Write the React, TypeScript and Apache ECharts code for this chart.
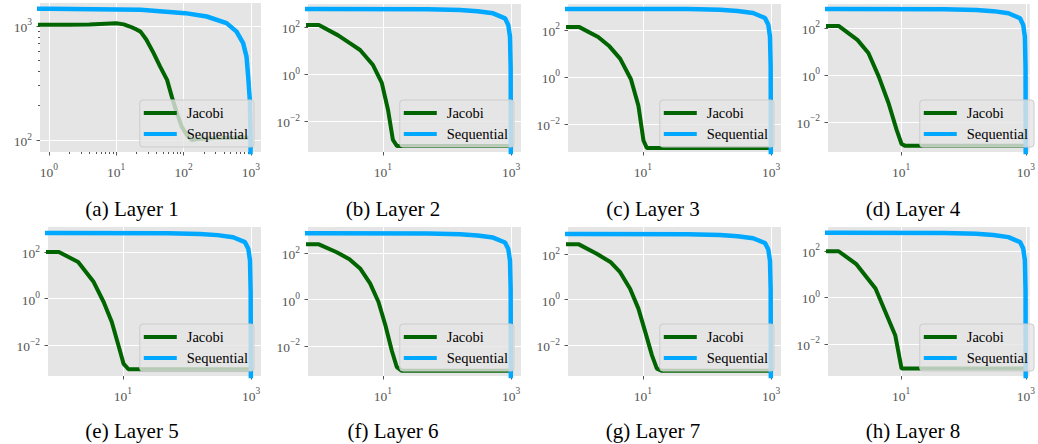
import React, { useEffect, useRef } from 'react';
import * as echarts from 'echarts';

// ---------------- data ----------------
const captions = ['(a) Layer 1', '(b) Layer 2', '(c) Layer 3', '(d) Layer 4', '(e) Layer 5', '(f) Layer 6', '(g) Layer 7', '(h) Layer 8'];
const seriesNames = ['Jacobi', 'Sequential'];

// [iteration, value]
const jacobiA = [[0.5, 1020], [1, 1020], [2, 1020], [4, 1025], [7, 1045], [10, 1055], [13, 1030], [16, 986], [20, 930], [23, 890], [28, 760], [36, 577], [45, 440], [57, 336], [67, 240], [80, 171], [94, 131], [112, 111], [133, 100], [160, 102], [300, 104], [1000, 105]];
const sequentialA = [[0.5, 1410], [1, 1410], [23, 1380], [106, 1292], [221, 1207], [436, 1056], [613, 890], [767, 705], [861, 537], [912, 359], [964, 224], [988, 115], [1010, 0.001]];

const jacobiB = [[0.5, 122], [1, 122], [2, 44], [3, 21], [4.4, 10.5], [7, 2.4], [9.6, 0.42], [12, 0.03], [14.3, 0.0016], [16.5, 0.00087], [1000, 0.00087]];
const sequentialB = [[0.5, 583], [1, 583], [50, 570], [160, 530], [300, 470], [525, 382], [806, 234], [907, 122], [964, 39], [988, 2], [1000, 1e-7]];

const jacobiC = [[0.5, 134], [1, 134], [2, 50], [3, 20], [4.4, 6], [6.5, 0.8], [8.5, 0.06], [10.2, 0.002], [11.5, 0.00095], [1000, 0.00095]];
const sequentialC = [[0.5, 780], [1, 780], [50, 765], [160, 715], [300, 640], [525, 520], [806, 320], [907, 165], [964, 52], [988, 3], [1000, 1e-7]];

const jacobiD = [[0.5, 122], [1, 122], [2, 31], [3, 8.6], [4.4, 0.85], [6.3, 0.064], [8.5, 0.0046], [10.2, 0.00115], [11.5, 0.00098], [1000, 0.00098]];
const sequentialD = [[0.5, 645], [1, 645], [50, 630], [160, 585], [300, 520], [525, 422], [806, 258], [907, 135], [964, 43], [988, 2], [1000, 1e-7]];

const jacobiE = [[0.5, 100], [1, 100], [2, 37], [3.5, 5.1], [5, 0.71], [6.7, 0.098], [8.5, 0.0098], [10.2, 0.0016], [12.2, 0.00091], [1000, 0.00091]];
const sequentialE = [[0.5, 660], [1, 660], [50, 645], [160, 600], [300, 532], [525, 432], [806, 265], [907, 138], [964, 44], [988, 2], [1000, 1e-7]];

const jacobiF = [[0.5, 240], [1, 240], [1.9, 110], [3, 55], [4.4, 22], [6.3, 5], [8.5, 0.8], [10.9, 0.08], [13.8, 0.006], [16.5, 0.0012], [19.5, 0.00085], [1000, 0.00085]];
const sequentialF = [[0.5, 720], [1, 720], [50, 705], [160, 655], [300, 580], [525, 472], [806, 290], [907, 151], [964, 48], [988, 3], [1000, 1e-7]];

const jacobiG = [[0.5, 267], [1, 267], [1.9, 103], [3.1, 45], [4.4, 16], [6.3, 3.0], [8.5, 0.4], [10.9, 0.037], [13.8, 0.0036], [16.5, 0.00092], [19.8, 0.00074], [1000, 0.00074]];
const sequentialG = [[0.5, 760], [1, 760], [50, 745], [160, 690], [300, 612], [525, 498], [806, 305], [907, 159], [964, 51], [988, 3], [1000, 1e-7]];

const jacobiH = [[0.5, 97], [1, 97], [1.9, 28], [3.9, 2.4], [5.6, 0.24], [8.1, 0.023], [10.2, 0.00087], [1000, 0.00087]];
const sequentialH = [[0.5, 600], [1, 600], [50, 588], [160, 545], [300, 484], [525, 393], [806, 241], [907, 126], [964, 40], [988, 2], [1000, 1e-7]];

const jacobiData = [jacobiA, jacobiB, jacobiC, jacobiD, jacobiE, jacobiF, jacobiG, jacobiH];
const sequentialData = [sequentialA, sequentialB, sequentialC, sequentialD, sequentialE, sequentialF, sequentialG, sequentialH];

// tick values
const xTicksA = [1, 10, 100, 1000];
const yTicksA = [100, 1000];
const xMinorA = [2, 3, 4, 5, 6, 7, 8, 9, 20, 30, 40, 50, 60, 70, 80, 90, 200, 300, 400, 500, 600, 700, 800, 900];
const yMinorA = [200, 300, 400, 500, 600, 700, 800, 900];
const xTicks = [10, 1000];
const yTicks = [0.01, 1, 100];

// axis extents as exponents of 10
const xExp = [[-0.13, 3.15], [-0.17, 3.156], [-0.17, 3.156], [-0.17, 3.0625], [-0.17, 3.156], [-0.17, 3.156], [-0.17, 3.156], [-0.17, 3.0625]];
const yExp = [[1.895, 3.2], [-3.319, 2.979], [-3.19, 3.1], [-3.28, 3.02], [-3.33, 3.075], [-3.3, 3.13], [-3.36, 3.19], [-3.38, 3.03]];

// ---------------- layout ----------------
const W = 1038;
const H = 444;
const boxes = [
  { left: 40, top: 3, width: 221, height: 149 },
  { left: 308, top: 4, width: 213, height: 148 },
  { left: 568, top: 4, width: 213, height: 148 },
  { left: 828, top: 4, width: 207, height: 148 },
  { left: 48, top: 227, width: 213, height: 149 },
  { left: 308, top: 227, width: 213, height: 149 },
  { left: 568, top: 227, width: 213, height: 149 },
  { left: 828, top: 227, width: 207, height: 149 },
];
const captionPos = [[132, 209], [393, 209], [653, 209], [913, 209], [132, 431], [393, 431], [653, 431], [913, 431]];

const SERIF = '"Liberation Serif", "Times New Roman", "DejaVu Serif", serif';
const GREEN = '#006400';
const BLUE = '#00a8ff';
const TICK = '#555555';

function expLabel(v: number) {
  const e = Math.round(Math.log10(v));
  const s = e < 0 ? '\u2212' + String(-e) : String(e);
  return '{b|10}{s|' + s + '}';
}

const rich = {
  b: { fontSize: 13.5, fontFamily: SERIF, color: TICK, verticalAlign: 'bottom', lineHeight: 17 },
  s: { fontSize: 9.5, fontFamily: SERIF, color: TICK, verticalAlign: 'top', lineHeight: 17 },
};

export default function App() {
  const ref = useRef<HTMLDivElement>(null);
  useEffect(() => {
    if (!ref.current) return;
    const chart = echarts.init(ref.current, undefined, { renderer: 'svg' });
    const grid: any[] = [];
    const xAxis: any[] = [];
    const yAxis: any[] = [];
    const series: any[] = [];
    const legend: any[] = [];
    const graphic: any[] = [];

    boxes.forEach((b, i) => {
      grid.push({ ...b, show: true, backgroundColor: '#e5e5e5', borderWidth: 0 });
      const xt = i === 0 ? xTicksA : xTicks;
      const yt = i === 0 ? yTicksA : yTicks;
      const xi = xAxis.length;
      xAxis.push({
        type: 'log', gridIndex: i, position: 'bottom',
        min: Math.pow(10, xExp[i][0]), max: Math.pow(10, xExp[i][1]),
        axisLine: { show: false },
        axisTick: { show: true, customValues: xt, length: 3.5, lineStyle: { color: TICK, width: 1 } },
        axisLabel: { show: true, customValues: xt, formatter: expLabel, rich, margin: 10 },
        splitLine: { show: true, lineStyle: { color: '#ffffff', width: 1 } },
        minorTick: { show: false }, minorSplitLine: { show: false },
      });
      const yi = yAxis.length;
      yAxis.push({
        type: 'log', gridIndex: i, position: 'left',
        min: Math.pow(10, yExp[i][0]), max: Math.pow(10, yExp[i][1]),
        axisLine: { show: false },
        axisTick: { show: true, customValues: yt, length: 3.5, lineStyle: { color: TICK, width: 1 } },
        axisLabel: { show: true, customValues: yt, formatter: expLabel, rich, margin: 8 },
        splitLine: { show: true, lineStyle: { color: '#ffffff', width: 1 } },
        minorTick: { show: false }, minorSplitLine: { show: false },
      });
      if (i === 0) {
        xAxis.push({
          type: 'log', gridIndex: 0, position: 'bottom',
          min: Math.pow(10, xExp[0][0]), max: Math.pow(10, xExp[0][1]),
          axisLine: { show: false },
          axisTick: { show: true, customValues: xMinorA, length: 2, lineStyle: { color: TICK, width: 1 } },
          axisLabel: { show: false }, splitLine: { show: false },
        });
        yAxis.push({
          type: 'log', gridIndex: 0, position: 'left',
          min: Math.pow(10, yExp[0][0]), max: Math.pow(10, yExp[0][1]),
          axisLine: { show: false },
          axisTick: { show: true, customValues: yMinorA, length: 2, lineStyle: { color: TICK, width: 1 } },
          axisLabel: { show: false }, splitLine: { show: false },
        });
      }
      series.push({
        name: seriesNames[0], type: 'line', xAxisIndex: xi, yAxisIndex: yi,
        data: jacobiData[i], symbol: 'none', showSymbol: false, clip: true,
        lineStyle: { color: GREEN, width: 4 }, itemStyle: { color: GREEN }, silent: true, z: 2,
      });
      series.push({
        name: seriesNames[1], type: 'line', xAxisIndex: xi, yAxisIndex: yi,
        data: sequentialData[i], symbol: 'none', showSymbol: false, clip: true,
        lineStyle: { color: BLUE, width: 4.5 }, itemStyle: { color: BLUE }, silent: true, z: 3,
      });
      const virtualRight = b.left + (i === 3 || i === 7 ? 213 : b.width);
      legend.push({
        data: seriesNames, orient: 'vertical', icon: 'rect', itemWidth: 33, itemHeight: 4, itemGap: 5,
        right: W - (virtualRight - 7), bottom: H - (b.top + b.height - 5),
        padding: [5, 6, 5, 4],
        backgroundColor: 'rgba(229,229,229,0.8)', borderColor: '#cccccc', borderWidth: 1, borderRadius: 3,
        selectedMode: false,
        textStyle: { fontFamily: SERIF, fontSize: 14.5, color: '#000', lineHeight: 16, padding: [0, 0, 0, 5] },
      });
      graphic.push({
        type: 'text', x: captionPos[i][0], y: captionPos[i][1], silent: true,
        style: { text: captions[i], align: 'center', verticalAlign: 'middle', fontSize: 21, fontFamily: SERIF, fill: '#000' },
      });
    });

    chart.setOption({ animation: false, grid, xAxis, yAxis, series, legend, graphic });
    return () => chart.dispose();
  }, []);
  return <div ref={ref} style={{ position: 'fixed', left: 0, top: 0, width: W, height: H, background: '#fff' }} />;
}
